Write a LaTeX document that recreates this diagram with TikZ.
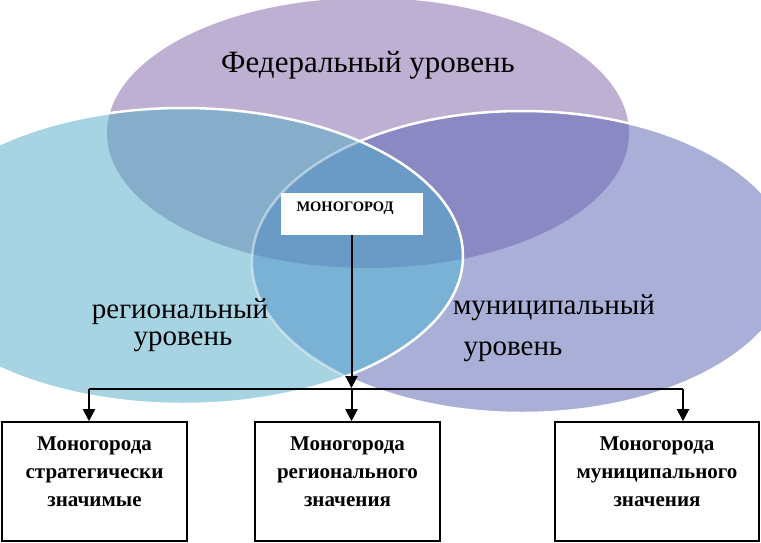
\documentclass[tikz,border=0pt]{standalone}
\usepackage{fontspec}
\setmainfont{Liberation Serif}
\usetikzlibrary{arrows.meta}
\definecolor{cT}{HTML}{BEB0D2}
\definecolor{cL}{HTML}{A6D4E2}
\definecolor{cR}{HTML}{AAAFD8}
\definecolor{cTL}{HTML}{86AECB}
\definecolor{cTR}{HTML}{8A89C4}
\definecolor{cLR}{HTML}{7AB2D5}
\definecolor{cC}{HTML}{6A9BC7}
\newcommand\ellT{(368,133) ellipse [x radius=261pt, y radius=135pt]}
\newcommand\ellL{(183,256) ellipse [x radius=280pt, y radius=148pt]}
\newcommand\ellR{(522,262) ellipse [x radius=270pt, y radius=151pt]}
\tikzset{
  rim/.style={white, line width=2.5pt},
  lvl/.style={font=\fontsize{31}{34}\selectfont, inner sep=0pt},
  lvlsmall/.style={font=\fontsize{29}{32}\selectfont, inner sep=0pt},
  outbox/.style={draw=black, line width=1.6pt, fill=white, minimum width=185pt, minimum height=119pt, inner sep=0pt},
  boxtext/.style={font=\bfseries\fontsize{21}{28}\selectfont, align=center, inner sep=0pt},
  conn/.style={black, line width=2pt},
  arr/.style={conn, -{Triangle[length=12pt, width=12pt]}},
}
\begin{document}
\begin{tikzpicture}[x=1pt,y=-1pt]
\useasboundingbox (0,0) rectangle (761,542);
% circles
\fill[cT] \ellT;
\fill[cR] \ellR;
\begin{scope}\clip \ellT; \fill[cTR] \ellR; \end{scope}
\draw[rim] \ellR;
\fill[cL] \ellL;
\begin{scope}\clip \ellT; \fill[cTL] \ellL; \end{scope}
\begin{scope}\clip \ellR; \fill[cLR] \ellL; \end{scope}
\begin{scope}\clip \ellT; \clip \ellR; \fill[cC] \ellL; \end{scope}
\begin{scope}\clip \ellL; \draw[white, opacity=0.45, line width=2.5pt] \ellR; \end{scope}
\draw[rim] \ellL;
% level labels
\node[lvl] (fed) at (368,65) {Федеральный уровень};
\node[lvlsmall] (reg1) at (180,312) {региональный};
\node[lvlsmall] (reg2) at (183,342) {уровень};
\node[lvlsmall] (mun1) at (554,308) {муниципальный};
\node[lvlsmall] (mun2) at (513,352) {уровень};
% central box
\node[fill=white, minimum width=142pt, minimum height=42pt, inner sep=0pt] (mono) at (351.5,214) {};
\node[font=\bfseries\fontsize{14.5}{16}\selectfont, inner sep=0pt] (monotext) at (345,208) {МОНОГОРОД};
% bottom boxes
\node[outbox] (b1) at (94.5,481.5) {};
\node[outbox] (b2) at (347.5,481.5) {};
\node[outbox, minimum width=204pt] (b3) at (657,481.5) {};
\node[boxtext] (t1) at (94.5,472) {Моногорода\\стратегически\\значимые};
\node[boxtext] (t2) at (347.5,472) {Моногорода\\регионального\\значения};
\node[boxtext] (t3) at (657,472) {Моногорода\\муниципального\\значения};
% connectors
\coordinate (j) at (351.5,389);
\coordinate (jl) at (89,389);
\coordinate (jr) at (683,389);
\draw[arr, shorten >=1pt] (mono.south) -- (j);
\draw[conn] (jl) -- (jr);
\draw[arr] (jl) -- (jl |- b1.north);
\draw[arr] (j) -- (j |- b2.north);
\draw[arr] (jr) -- (jr |- b3.north);
\end{tikzpicture}
\end{document}
